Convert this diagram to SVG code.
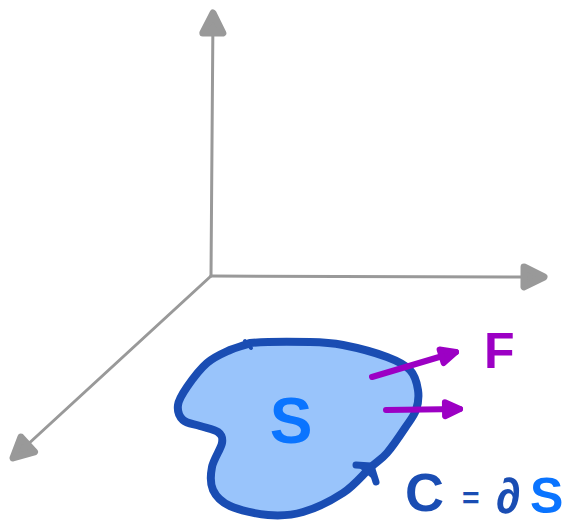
<svg xmlns="http://www.w3.org/2000/svg" width="570" height="526" viewBox="0 0 570 526">
<style>
.axis{stroke:#999999;stroke-width:3;fill:none;stroke-linecap:round}
.force{stroke:#9c00c4;stroke-width:6;fill:none;stroke-linecap:round}
.lbl{font-family:"Liberation Sans",Arial,sans-serif;font-weight:bold}
</style>
<defs>
<marker id="ah" viewBox="0 0 30 30" refX="25" refY="15" markerWidth="30" markerHeight="30" markerUnits="userSpaceOnUse" orient="auto">
<path d="M5,5 L25,15 L5,25 Z" fill="#999999" stroke="#999999" stroke-width="7" stroke-linejoin="round"/>
</marker>
<marker id="fh" viewBox="0 0 24 24" refX="20" refY="12" markerWidth="24" markerHeight="24" markerUnits="userSpaceOnUse" orient="auto">
<path d="M5,5 L20,12 L5,19 Z" fill="#9c00c4" stroke="#9c00c4" stroke-width="6" stroke-linejoin="round"/>
</marker>
</defs>
<rect width="570" height="526" fill="#ffffff"/>
<g id="axes">
<line class="axis" x1="211" y1="276" x2="213" y2="13" marker-end="url(#ah)"/>
<line class="axis" x1="211" y1="276" x2="544" y2="277" marker-end="url(#ah)"/>
<line class="axis" x1="211" y1="276" x2="13" y2="458" marker-end="url(#ah)"/>
</g>
<g id="surface">
<path d="M250,343 C263.3,341.7 294.5,341.7 310,342 C325.5,342.3 330.2,342.5 343,345 C355.8,347.5 375.8,352.8 387,357 C398.2,361.2 404.8,364.5 410,370 C415.2,375.5 417,383.3 418,390 C419,396.7 418.2,403.7 416,410 C413.8,416.3 409.8,420.8 405,428 C400.2,435.2 392.8,446.3 387,453 C381.2,459.7 377.3,461.3 370,468 C362.7,474.7 354.2,485.7 343,493 C331.8,500.3 315.5,508.3 303,512 C290.5,515.7 280.2,516 268,515 C255.8,514 239.2,510.2 230,506 C220.8,501.8 216,496.5 213,490 C210,483.5 210.5,474.8 212,467 C213.5,459.2 221,448.8 222,443 C223,437.2 221.7,434.8 218,432 C214.3,429.2 205.8,428 200,426 C194.2,424 186.7,423.5 183,420 C179.3,416.5 177.3,410.5 178,405 C178.7,399.5 182.2,394 187,387 C191.8,380 199.8,369.2 207,363 C214.2,356.8 222.8,353.3 230,350 C237.2,346.7 242.8,346.3 250,343 Z" fill="#99c4fb" stroke="#1a4db3" stroke-width="8" stroke-linejoin="round"/>
<path d="M245,341 L251,348" stroke="#1a4db3" stroke-width="4" stroke-linecap="round"/>
<path d="M356,465 L371,466 L376,482" fill="#1a4db3" stroke="#1a4db3" stroke-width="7" stroke-linecap="round" stroke-linejoin="round"/>
<text class="lbl" x="291" y="443" font-size="64" fill="#0a74ff" text-anchor="middle">S</text>
</g>
<g id="force-arrows">
<line class="force" x1="372" y1="377" x2="456" y2="352" marker-end="url(#fh)"/>
<line class="force" x1="386" y1="410" x2="460" y2="409" marker-end="url(#fh)"/>
</g>
<g id="label-F">
<text class="lbl" x="484" y="368" font-size="50" fill="#9c00c4">F</text>
</g>
<g id="label-C">
<text class="lbl" x="405" y="511" font-size="54" fill="#1a4db3">C</text>
<text class="lbl" x="462" y="508" font-size="30" fill="#1a4db3">=</text>
<text class="lbl" x="496" y="513" font-size="50" fill="#1a4db3">∂</text>
<text class="lbl" x="530" y="513" font-size="50" fill="#0a74ff">S</text>
</g>
</svg>
